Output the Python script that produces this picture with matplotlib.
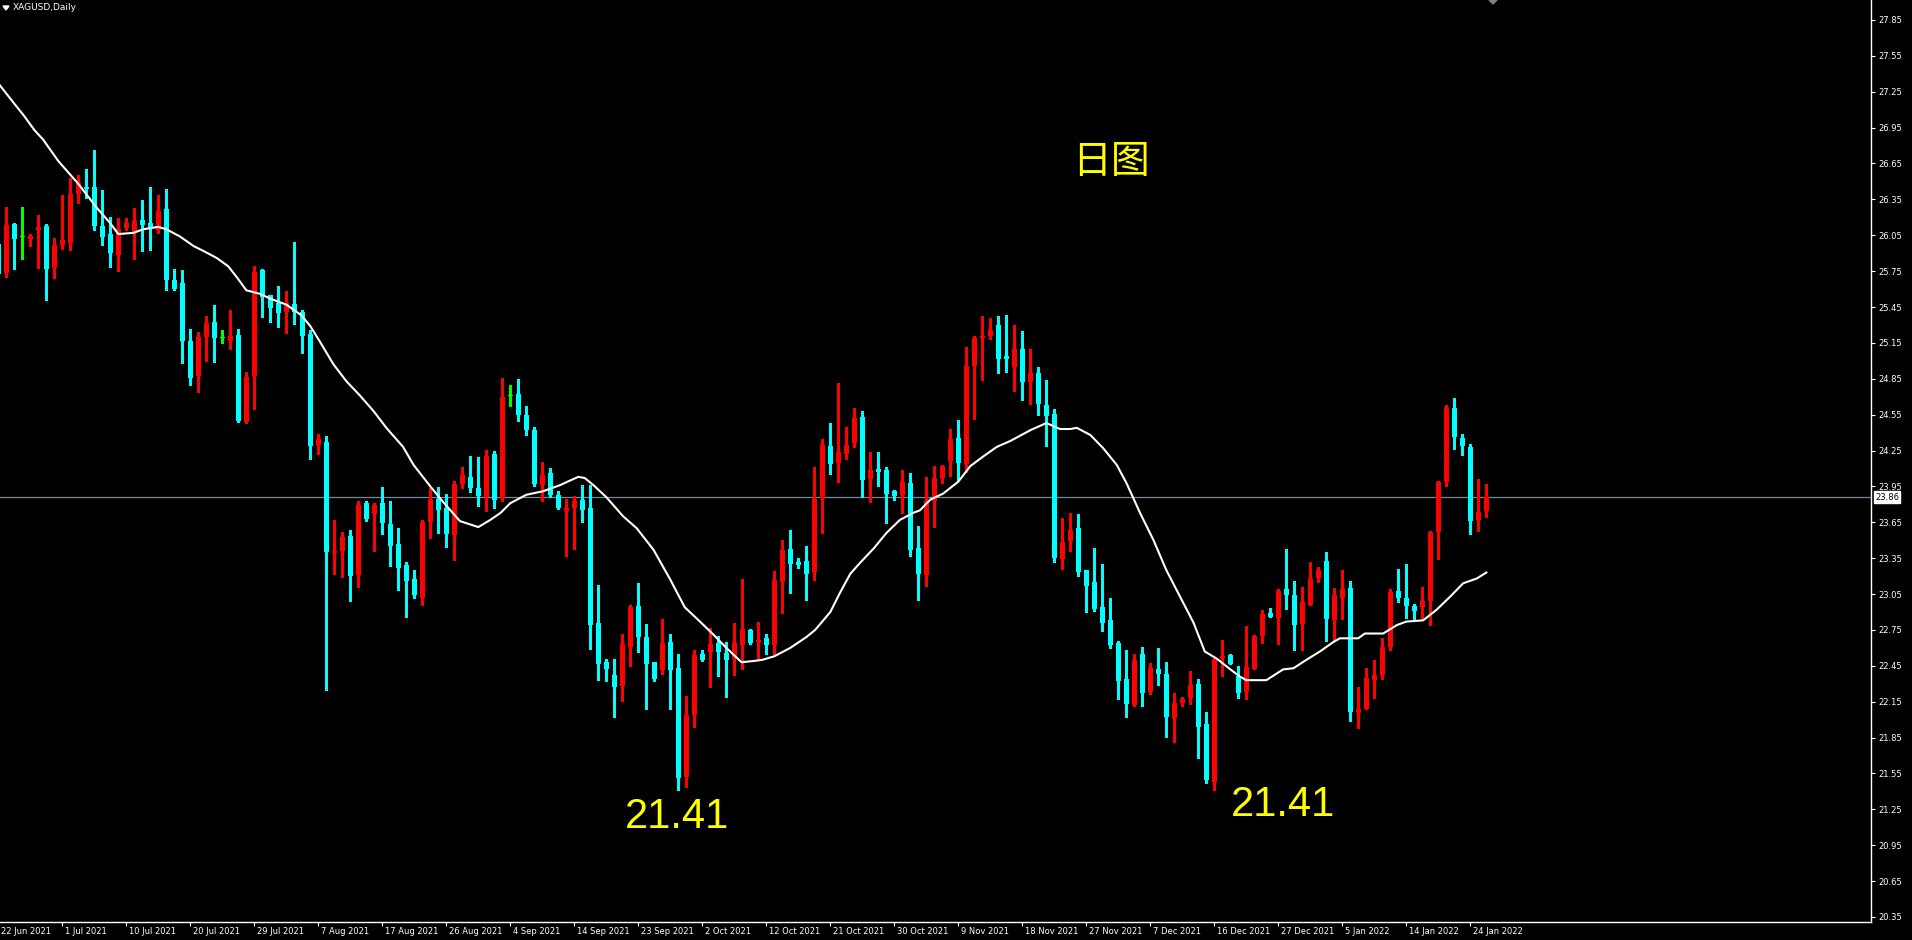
import numpy as np
import matplotlib
matplotlib.use("Agg")
import matplotlib.pyplot as plt
import matplotlib.transforms as mtransforms

# ---------------- data (XAGUSD daily) ----------------
opens = [25.98, 25.732, 26.144, 26.033, 26.019, 26.094, 26.127, 25.779, 25.968, 25.985,
         26.395, 26.453, 26.453, 26.127, 26.060, 25.885, 26.111, 26.077, 26.177, 26.152,
         26.094, 26.269, 25.676, 25.651, 25.166, 24.873, 25.199, 25.325, 25.191, 25.166,
         25.216, 24.489, 24.873, 25.760, 25.551, 25.484, 25.408, 25.475, 25.408, 25.224,
         24.296, 24.321, 23.393, 23.410, 23.535, 23.209, 23.811, 23.719, 23.811, 23.636,
         23.469, 23.293, 23.176, 23.017, 23.653, 23.845, 23.770, 23.544, 23.970, 24.029,
         23.937, 23.862, 24.221, 23.853, 24.706, 24.72, 24.55, 24.42, 23.962, 24.062,
         23.878, 23.744, 23.769, 23.836, 23.769, 22.808, 22.482, 22.373, 22.281, 22.607,
         22.950, 22.691, 22.482, 22.415, 22.649, 22.431, 21.520, 22.039, 22.549, 22.565,
         22.641, 22.557, 22.515, 22.624, 22.749, 22.649, 22.68, 22.62, 23.154, 23.427,
         23.318, 23.327, 23.235, 23.853, 24.288, 24.146, 24.221, 24.313, 24.531, 24.012,
         24.096, 24.088, 23.912, 23.879, 23.979, 23.435, 23.210, 23.828, 24.021, 24.163,
         24.355, 24.138, 24.957, 25.191, 25.208, 25.300, 25.041, 24.95, 25.10, 24.826,
         24.90, 24.631, 24.556, 23.343, 23.494, 23.603, 23.251, 23.151, 22.942, 22.833,
         22.641, 22.340, 22.123, 22.549, 22.231, 22.424, 22.382, 22.014, 22.139, 22.181,
         22.298, 21.964, 21.479, 22.516, 22.541, 22.365, 22.231, 22.424, 22.700, 22.892,
         22.850, 23.093, 23.042, 22.800, 22.959, 23.184, 23.327, 22.833, 23.017, 23.101,
         22.056, 22.089, 22.332, 22.373, 22.608, 23.076, 23.017, 22.950, 22.942, 22.992,
         23.569, 23.987, 24.606, 24.355, 24.280, 23.669, 23.745]
highs = [26.05, 26.286, 26.152, 26.286, 26.060, 26.219, 26.144, 26.030, 26.387, 26.531,
         26.554, 26.604, 26.763, 26.428, 26.200, 26.194, 26.194, 26.278, 26.345, 26.453,
         26.387, 26.437, 25.768, 25.759, 25.266, 25.241, 25.375, 25.467, 25.258, 25.425,
         25.266, 24.907, 25.793, 25.768, 25.551, 25.626, 25.584, 25.994, 25.425, 25.258,
         24.388, 24.372, 23.669, 23.569, 23.586, 23.828, 23.828, 23.811, 23.945, 23.828,
         23.602, 23.318, 23.251, 23.669, 23.937, 23.945, 23.887, 23.995, 24.112, 24.204,
         24.196, 24.255, 24.246, 24.857, 24.80, 24.85, 24.62, 24.45, 24.15, 24.10,
         23.911, 23.845, 23.870, 23.962, 23.962, 23.125, 22.507, 22.507, 22.716, 22.958,
         23.142, 22.799, 22.482, 22.841, 22.716, 22.549, 22.197, 22.582, 22.582, 22.766,
         22.699, 22.649, 22.808, 23.176, 22.758, 22.816, 22.72, 23.243, 23.502, 23.586,
         23.352, 23.452, 24.113, 24.347, 24.481, 24.815, 24.447, 24.606, 24.581, 24.238,
         24.238, 24.113, 23.920, 24.088, 24.063, 23.619, 24.029, 24.121, 24.129, 24.430,
         24.506, 25.116, 25.208, 25.375, 25.358, 25.375, 25.384, 25.30, 25.25, 25.10,
         24.95, 24.84, 24.598, 23.686, 23.728, 23.720, 23.251, 23.435, 23.302, 23.017,
         22.658, 22.582, 22.549, 22.608, 22.474, 22.599, 22.482, 22.223, 22.189, 22.407,
         22.340, 22.064, 22.516, 22.666, 22.549, 22.449, 22.783, 22.708, 22.917, 22.934,
         23.093, 23.427, 23.159, 23.109, 23.318, 23.276, 23.402, 23.101, 23.251, 23.159,
         22.273, 22.432, 22.499, 22.683, 23.093, 23.260, 23.302, 22.967, 23.109, 23.577,
         23.995, 24.631, 24.689, 24.388, 24.305, 24.012, 23.970]
lows = [25.70, 25.704, 25.768, 25.851, 25.960, 25.779, 25.509, 25.695, 25.935, 25.929,
        26.320, 26.364, 26.094, 25.968, 25.787, 25.751, 26.094, 25.851, 25.918, 25.927,
        26.069, 25.592, 25.595, 24.982, 24.798, 24.739, 24.999, 24.990, 25.149, 25.099,
        24.489, 24.480, 24.597, 25.367, 25.325, 25.283, 25.233, 25.308, 25.066, 24.179,
        24.221, 22.248, 23.218, 23.193, 22.992, 23.109, 23.661, 23.410, 23.552, 23.285,
        23.084, 22.858, 23.017, 22.959, 23.519, 23.561, 23.443, 23.335, 23.937, 23.903,
        23.786, 23.744, 23.770, 23.828, 24.62, 24.50, 24.38, 23.95, 23.828, 23.861,
        23.76, 23.368, 23.426, 23.652, 22.590, 22.331, 22.323, 22.022, 22.156, 22.448,
        22.568, 22.089, 22.323, 22.381, 22.089, 21.411, 21.436, 21.938, 22.490, 22.273,
        22.365, 22.189, 22.373, 22.423, 22.632, 22.498, 22.55, 22.55, 22.892, 23.059,
        23.268, 23.001, 23.168, 23.561, 24.054, 23.987, 24.180, 24.280, 23.862, 23.820,
        23.954, 23.644, 23.837, 23.728, 23.369, 23.001, 23.118, 23.611, 23.979, 24.037,
        24.004, 24.071, 24.514, 24.840, 25.183, 24.899, 24.907, 24.748, 24.673, 24.639,
        24.547, 24.288, 23.318, 23.260, 23.410, 23.201, 22.900, 22.909, 22.741, 22.599,
        22.173, 22.022, 22.114, 22.114, 22.215, 22.290, 21.855, 21.813, 22.114, 22.131,
        21.679, 21.470, 21.412, 22.365, 22.465, 22.181, 22.173, 22.424, 22.641, 22.858,
        22.633, 22.925, 22.582, 22.582, 22.959, 23.151, 22.658, 22.666, 22.842, 21.989,
        21.930, 22.089, 22.181, 22.340, 22.582, 22.984, 22.850, 22.825, 22.833, 22.791,
        23.343, 23.954, 24.263, 24.213, 23.552, 23.577, 23.694]
closes = [25.726, 26.136, 26.019, 26.033, 26.044, 26.119, 25.768, 25.968, 26.010, 26.395,
          26.484, 26.439, 26.127, 26.035, 25.902, 26.102, 26.152, 26.169, 26.136, 26.111,
          26.253, 25.676, 25.601, 25.166, 24.856, 25.199, 25.316, 25.191, 25.191, 25.208,
          24.497, 24.865, 25.743, 25.534, 25.442, 25.400, 25.484, 25.408, 25.208, 24.288,
          24.347, 23.402, 23.410, 23.527, 23.201, 23.795, 23.678, 23.795, 23.644, 23.452,
          23.268, 23.159, 23.042, 23.653, 23.836, 23.753, 23.552, 23.970, 24.046, 23.937,
          23.870, 24.204, 23.836, 24.698, 24.706, 24.55, 24.42, 23.970, 24.045, 23.878,
          23.769, 23.769, 23.828, 23.753, 22.791, 22.465, 22.423, 22.273, 22.632, 22.942,
          22.691, 22.465, 22.340, 22.641, 22.415, 21.512, 22.039, 22.540, 22.498, 22.632,
          22.565, 22.498, 22.641, 22.758, 22.641, 22.666, 22.62, 23.168, 23.419, 23.302,
          23.293, 23.218, 23.845, 24.297, 24.138, 24.238, 24.297, 24.522, 24.004, 24.088,
          24.071, 23.887, 23.870, 23.987, 23.419, 23.218, 23.828, 24.021, 24.121, 24.347,
          24.146, 24.957, 25.191, 25.208, 25.258, 25.016, 25.016, 25.10, 24.826, 24.90,
          24.639, 24.539, 23.352, 23.485, 23.586, 23.235, 23.118, 22.925, 22.808, 22.624,
          22.323, 22.131, 22.499, 22.223, 22.432, 22.382, 22.022, 22.139, 22.173, 22.290,
          21.939, 21.496, 22.507, 22.532, 22.465, 22.223, 22.440, 22.700, 22.883, 22.858,
          23.076, 23.042, 22.791, 22.984, 23.176, 23.251, 22.842, 23.042, 23.093, 22.064,
          22.089, 22.348, 22.373, 22.608, 23.067, 23.017, 22.950, 22.909, 22.992, 23.569,
          23.987, 24.614, 24.363, 24.288, 23.661, 23.736, 23.86]

# moving average line (bar position, value)
ma_pos = [0, 2, 3.2, 4.5, 5.6, 7.5, 10, 12.3, 14, 15, 16.9, 18.1, 20, 21, 22.7, 24.4, 25.6,
          27.3, 28.75, 29.8, 31, 32.7, 34, 36, 37.9, 39, 40.2, 41.9, 43.5, 45.2, 46.9, 48.5,
          50.6, 51.9, 54, 55.6, 57.7, 60, 61.5, 62.8, 64, 66, 68.1, 70.2, 71.5, 72.5, 73.3,
          74.4, 76, 78.1, 79.8, 81.9, 84, 85.8, 87.7, 89.4, 91, 92.9, 94.4, 95.5, 97, 99,
          101, 102.1, 104, 105.2, 106.5, 107.7, 109.4, 111, 112.7, 114.4, 115.2, 116.5,
          118.1, 120, 121.5, 123.1, 124.8, 126.5, 129, 131, 132.7, 134, 134.8, 136.5, 138.1,
          139.8, 141, 142.7, 144.4, 146, 147.7, 149.4, 150.8, 152.3, 154, 155.2, 156, 158.5,
          160.6, 161.9, 163.5, 165.2, 166.9, 167.7, 170, 170.8, 173.1, 174.8, 176, 178.1,
          179.8, 181.5, 183.1, 184.8, 186]
ma_val = [27.32, 27.15, 27.05, 26.93, 26.85, 26.67, 26.48, 26.28, 26.15, 26.06, 26.07, 26.10,
          26.12, 26.10, 26.04, 25.96, 25.92, 25.86, 25.79, 25.70, 25.59, 25.56, 25.52, 25.47,
          25.38, 25.29, 25.16, 24.97, 24.83, 24.71, 24.58, 24.44, 24.28, 24.13, 23.95, 23.82,
          23.66, 23.61, 23.67, 23.73, 23.81, 23.88, 23.91, 23.96, 24.00, 24.03, 24.02, 23.96,
          23.86, 23.70, 23.60, 23.42, 23.17, 22.94, 22.82, 22.71, 22.60, 22.48, 22.49, 22.50,
          22.53, 22.60, 22.69, 22.75, 22.90, 23.06, 23.22, 23.31, 23.43, 23.56, 23.67, 23.73,
          23.75, 23.84, 23.89, 23.99, 24.12, 24.20, 24.28, 24.33, 24.42, 24.48, 24.43, 24.43,
          24.44, 24.38, 24.27, 24.13, 23.98, 23.73, 23.50, 23.25, 23.03, 22.81, 22.57, 22.51,
          22.42, 22.36, 22.33, 22.33, 22.42, 22.43, 22.50, 22.57, 22.65, 22.68, 22.68, 22.72,
          22.72, 22.79, 22.82, 22.83, 22.92, 23.03, 23.14, 23.18, 23.23]

date_labels = ["22 Jun 2021", "1 Jul 2021", "10 Jul 2021", "20 Jul 2021", "29 Jul 2021",
               "7 Aug 2021", "17 Aug 2021", "26 Aug 2021", "4 Sep 2021", "14 Sep 2021",
               "23 Sep 2021", "2 Oct 2021", "12 Oct 2021", "21 Oct 2021", "30 Oct 2021",
               "9 Nov 2021", "18 Nov 2021", "27 Nov 2021", "7 Dec 2021", "16 Dec 2021",
               "27 Dec 2021", "5 Jan 2022", "14 Jan 2022", "24 Jan 2022"]
label_step = 8
price_ticks = [27.85, 27.55, 27.25, 26.95, 26.65, 26.35, 26.05, 25.75, 25.45, 25.15, 24.85,
               24.55, 24.25, 23.95, 23.65, 23.35, 23.05, 22.75, 22.45, 22.15, 21.85, 21.55,
               21.25, 20.95, 20.65, 20.35]
last_price = 23.86
low_label = "21.41"
title = "XAGUSD,Daily"
note = "日图"

# ---------------- drawing ----------------
W, H = 1912, 940
fig = plt.figure(figsize=(W / 100, H / 100), dpi=100, facecolor="black")
ax = fig.add_axes([0, 18 / H, 1871 / W, 922 / H], facecolor="black")

O = np.array(opens); Hh = np.array(highs); L = np.array(lows); C = np.array(closes)
idx = np.arange(len(O))
cols = np.where(C > O, "#FF0000", np.where(C < O, "#00FFFF", "#00FF00"))
ax.vlines(idx, L, Hh, colors=cols, lw=0.8, antialiased=False, zorder=2)
bot = np.minimum(O, C)
hgt = np.maximum(np.abs(C - O), 0.009)
ax.bar(idx, hgt, bottom=bot, width=0.625, color=cols, linewidth=0, antialiased=False, zorder=3)

ax.plot(ma_pos, ma_val, color="white", lw=1.5, zorder=4, solid_joinstyle="round")

ax.axhline(last_price, color="#778899", lw=0.9, zorder=1)

ax.set_xlim(0.21, 234.08)
ax.set_ylim(20.308, 28.017)

for s in ["left", "top"]:
    ax.spines[s].set_visible(False)
for s in ["right", "bottom"]:
    ax.spines[s].set_color("white")
    ax.spines[s].set_linewidth(1.0)

ax.yaxis.tick_right()
ax.set_yticks(price_ticks)
ax.set_yticklabels([f"{v:.2f}" for v in price_ticks])
ax.tick_params(axis="y", colors="white", direction="out", length=3, width=0.8,
               pad=2, labelsize=6, labelcolor="white")

tick_pos = [i * label_step for i in range(len(date_labels))]
ax.set_xticks(tick_pos[1:])
ax.set_xticklabels([])
ax.tick_params(axis="x", colors="white", direction="out", length=3, width=0.8)
trans = mtransforms.blended_transform_factory(ax.transData, ax.transAxes)
offs = mtransforms.ScaledTranslation(3 / 100, -10 / 100, fig.dpi_scale_trans)
for p, lab in zip(tick_pos, date_labels):
    ax.text(p, 0, lab, transform=trans + offs, color="white", fontsize=6,
            ha="left", va="center", clip_on=False)

# last price box
ax.text(1.0, last_price, f"{last_price:.2f}",
        transform=mtransforms.blended_transform_factory(ax.transAxes, ax.transData)
        + mtransforms.ScaledTranslation(4 / 100, 0, fig.dpi_scale_trans),
        color="black", fontsize=6, ha="left", va="center", clip_on=False,
        bbox=dict(boxstyle="square,pad=0.15", fc="white", ec="white"))

# title
fig.text(13 / W, 1 - 8 / H, title, color="white", fontsize=6.5, ha="left", va="center")
fig.patches.append(plt.Polygon([[3 / W, 1 - 6 / H], [9 / W, 1 - 6 / H], [6 / W, 1 - 10 / H]],
                               closed=True, transform=fig.transFigure, color="white"))
# chart shift marker
fig.patches.append(plt.Polygon([[1489 / W, 1.0], [1497 / W, 1.0], [1493 / W, 1 - 4 / H]],
                               closed=True, transform=fig.transFigure, color="#808080"))

# annotations
fig.text(1111 / W, 1 - 162 / H, note, color="#FFFF00", fontsize=28,
         family=["Noto Sans CJK SC", "DejaVu Sans"], ha="center", va="center")
fig.text(677 / W, 1 - 817 / H, low_label, color="#FFFF00", fontsize=30,
         family="Liberation Sans", ha="center", va="center")
fig.text(1283 / W, 1 - 805 / H, low_label, color="#FFFF00", fontsize=30,
         family="Liberation Sans", ha="center", va="center")

fig.savefig("out.png", dpi=100, facecolor="black")
